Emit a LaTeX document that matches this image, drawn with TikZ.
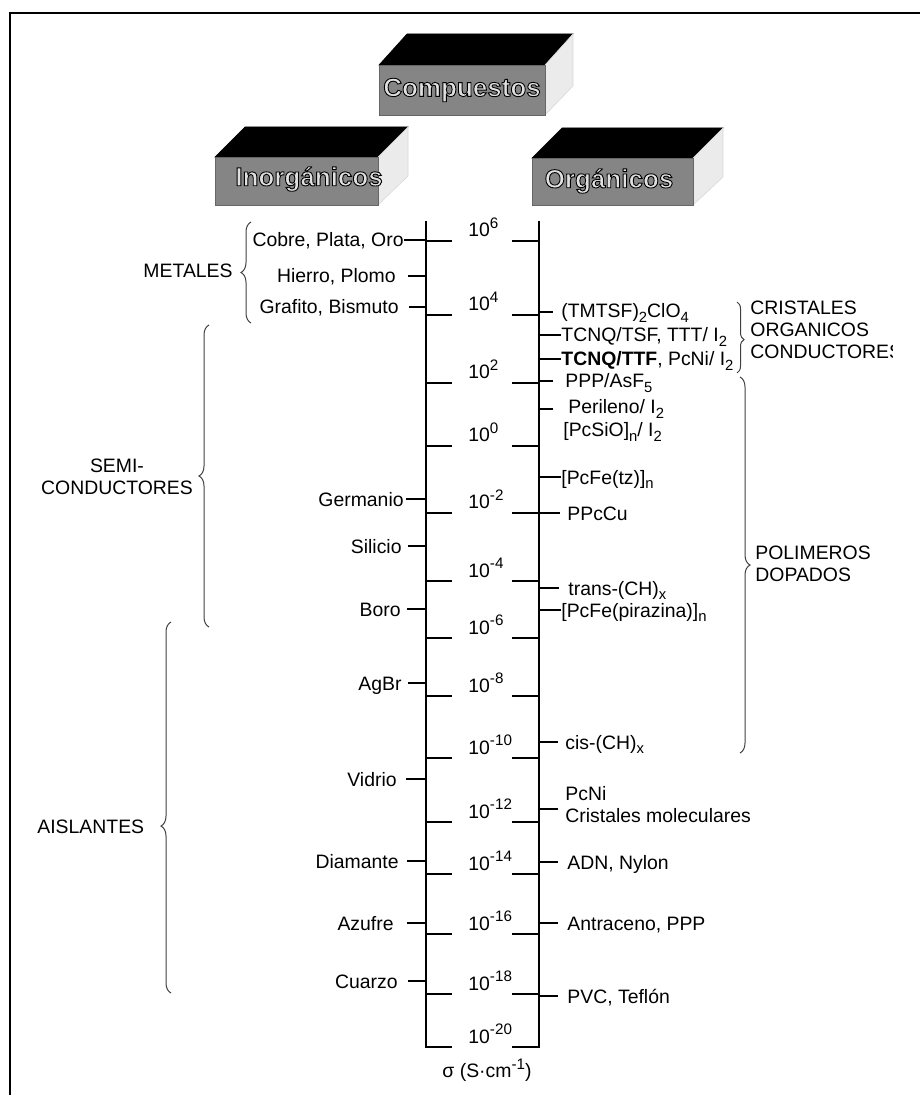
\documentclass[tikz,border=0pt]{standalone}
\usepackage{fontspec}
\setmainfont{Liberation Sans}
\usetikzlibrary{decorations.pathreplacing}
\newcommand{\sbs}[1]{\raisebox{-0.22em}{\fontsize{7.4}{8}\selectfont #1}}
\newcommand{\sps}[1]{\raisebox{0.42em}{\fontsize{7.6}{8}\selectfont #1}}
\begin{document}
\begin{tikzpicture}[x=0.5pt,y=-0.5pt,
  lbl/.style={font=\fontsize{9.7}{11}\selectfont, inner sep=0pt, text height=7pt, text depth=0pt},
  lft/.style={lbl, anchor=east},
  rgt/.style={lbl, anchor=west},
  multi/.style={font=\fontsize{9.7}{11}\selectfont, inner sep=0pt, align=left, anchor=west},
  declbl/.style={font=\fontsize{9.7}{11}\selectfont, inner sep=0pt, anchor=base west},
  axisline/.style={line width=1pt},
  tickline/.style={line width=1pt},
  conn/.style={line width=0.8pt},
  brc/.style={decorate, decoration={brace, amplitude=#1, aspect=0.5}, line width=0.5pt, draw=black!75},
  brc/.default=5pt,
  topface/.style={fill=black, draw=black, line width=0.3pt},
  frontface/.style={fill=black!48, draw=black!60, line width=0.3pt},
  sideface/.style={fill=black!8, draw=black!15, line width=0.3pt},
  title/.style={font=\fontsize{13}{15}\selectfont\bfseries, text=black!12, inner sep=0pt}
]
\useasboundingbox (0,0) rectangle (920,1095);
\newcommand{\outl}[1]{\special{pdf:literal direct 2 Tr 0.45 w 0 G}#1\special{pdf:literal direct 0 Tr}}

% frame
\draw[line width=0.8pt] (920,13) -- (10,13) -- (10,1095);

% slabs
\draw[topface] (379,65) -- (407,34) -- (573,34) -- (545,65) -- cycle;
\draw[sideface] (545,65) -- (573,34) -- (573,86) -- (545,115) -- cycle;
\draw[frontface] (379,65) rectangle (545,115);
\node[title] (comp) at (462,90) {\outl{Compuestos}};

\draw[topface] (215,157) -- (245,127) -- (408,127) -- (378,157) -- cycle;
\draw[sideface] (378,157) -- (408,127) -- (408,176) -- (378,205) -- cycle;
\draw[frontface] (215,157) rectangle (378,205);
\node[title] (inorg) at (309,179) {\outl{Inorgánicos}};

\draw[topface] (532,158) -- (562,128) -- (723,128) -- (693,158) -- cycle;
\draw[sideface] (693,158) -- (723,128) -- (723,177) -- (693,205) -- cycle;
\draw[frontface] (532,158) rectangle (693,205);
\node[title] (org) at (609,181) {\outl{Orgánicos}};

% axes
\draw[axisline] (452,1047) -- (426,1047) -- (426,221);
\draw[axisline] (512,1047) -- (539,1047) -- (539,221);

% decade ticks and labels
\foreach \yy in {241, 315, 383, 446, 513, 581, 638, 696, 758, 822, 874, 934, 994}{
  \draw[tickline] (426,\yy) -- (452,\yy);
  \draw[tickline] (512,\yy) -- (539,\yy);
}
\foreach \yy/\ex/\nm in {241/6/d6, 315/4/d4, 383/2/d2, 446/0/d0, 513/-2/dm2, 581/-4/dm4, 638/-6/dm6, 696/-8/dm8, 758/-10/dm10, 822/-12/dm12, 874/-14/dm14, 934/-16/dm16, 994/-18/dm18, 1047/-20/dm20}{
  \node[declbl] (\nm) at (468,\yy-4) {10\sps{\ex}};
}
\node[font=\fontsize{9.7}{11}\selectfont, inner sep=0pt] (sigma) at (487,1070) {σ (S·cm\sps{-1})};

% left (inorganic) items
\node[lft] (cobre) at (404,240) {Cobre, Plata, Oro};
\node[lft] (hierro) at (396,276) {Hierro, Plomo};
\node[lft] (grafito) at (399,307) {Grafito, Bismuto};
\node[lft] (germanio) at (404,499) {Germanio};
\node[lft] (silicio) at (402,546) {Silicio};
\node[lft] (boro) at (401,609) {Boro};
\node[lft] (agbr) at (402,683) {AgBr};
\node[lft] (vidrio) at (397,779) {Vidrio};
\node[lft] (diamante) at (399,861) {Diamante};
\node[lft] (azufre) at (394,923) {Azufre};
\node[lft] (cuarzo) at (398,981) {Cuarzo};

\foreach \nm/\yy in {cobre/240, hierro/276, grafito/307, germanio/499, silicio/546, boro/609, agbr/683, vidrio/779, diamante/861, azufre/923, cuarzo/981}{
  \coordinate (\nm A) at (426,\yy);
}
\draw[conn] (cobre.east) -- (cobreA);
\draw[conn] ([xshift=6pt]hierro.east) -- (hierroA);
\draw[conn] ([xshift=5pt]grafito.east) -- (grafitoA);
\draw[conn] ([xshift=1pt]germanio.east) -- (germanioA);
\draw[conn] ([xshift=3pt]silicio.east) -- (silicioA);
\draw[conn] ([xshift=3pt]boro.east) -- (boroA);
\draw[conn] ([xshift=3pt]agbr.east) -- (agbrA);
\draw[conn] ([xshift=4.5pt]vidrio.east) -- (vidrioA);
\draw[conn] ([xshift=4pt]diamante.east) -- (diamanteA);
\draw[conn] ([xshift=6.5pt]azufre.east) -- (azufreA);
\draw[conn] ([xshift=5pt]cuarzo.east) -- (cuarzoA);

% right (organic) items
\node[rgt] (tmtsf) at (561,311) {(TMTSF)\sbs{2}ClO\sbs{4}};
\node[rgt] (tcnqtsf) at (561,335) {TCNQ/TSF, TTT/ I\sbs{2}};
\node[rgt] (tcnqttf) at (561,359) {\textbf{TCNQ/TTF}, PcNi/ I\sbs{2}};
\node[rgt] (ppp) at (565,381) {PPP/AsF\sbs{5}};
\node[rgt] (perileno) at (568,407) {Perileno/ I\sbs{2}};
\node[rgt] (pcsio) at (563,430) {[PcSiO]\sbs{n}/ I\sbs{2}};
\node[rgt] (pcfetz) at (561,477) {[PcFe(tz)]\sbs{n}};
\node[rgt] (ppccu) at (567,513) {PPcCu};
\node[rgt] (trans) at (568,588) {trans-(CH)\sbs{x}};
\node[rgt] (pirazina) at (561,610) {[PcFe(pirazina)]\sbs{n}};
\node[rgt] (cis) at (565,742) {cis-(CH)\sbs{x}};
\node[multi] (pcni) at (565,805) {PcNi\\Cristales moleculares};
\node[rgt] (adn) at (567,862) {ADN, Nylon};
\node[rgt] (antraceno) at (567,923) {Antraceno, PPP};
\node[rgt] (pvc) at (567,996) {PVC, Teflón};

\foreach \nm/\yy in {tmtsf/312, tcnqtsf/335, tcnqttf/359, ppp/381, perileno/409, pcfetz/477, ppccu/513, trans/588, pirazina/610, cis/742, pcni/809, adn/862, antraceno/923, pvc/996}{
  \coordinate (\nm B) at (539,\yy);
}
\draw[conn] (tmtsfB) -- ([xshift=-4pt]tmtsf.west |- tmtsfB);
\draw[conn] (tcnqtsfB) -- (tcnqtsf.west);
\draw[conn] (tcnqttfB) -- (tcnqttf.west);
\draw[conn] (pppB) -- ([xshift=-6pt]ppp.west);
\draw[conn] (perilenoB) -- ([xshift=-7.5pt]perileno.west |- perilenoB);
\draw[conn] (pcfetzB) -- (pcfetz.west);
\draw[conn] (ppccuB) -- ([xshift=-3.5pt]ppccu.west);
\draw[conn] (transB) -- ([xshift=-4.5pt]trans.west);
\draw[conn] (pirazinaB) -- (pirazina.west);
\draw[conn] (cisB) -- ([xshift=-3.5pt]cis.west);
\draw[conn] (pcniB) -- ([xshift=-3.5pt]pcni.west |- pcniB);
\draw[conn] (adnB) -- ([xshift=-4.5pt]adn.west);
\draw[conn] (antracenoB) -- ([xshift=-4.5pt]antraceno.west);
\draw[conn] (pvcB) -- ([xshift=-4.5pt]pvc.west);

% left braces and groups
\node[font=\fontsize{9.7}{11}\selectfont, inner sep=0pt, anchor=east] (metales) at (233,271) {METALES};
\draw[brc] (251,323) -- (251,222);
\node[font=\fontsize{9.7}{11}\selectfont, inner sep=0pt, align=center] (semi) at (117,477) {SEMI-\\CONDUCTORES};
\draw[brc] (209,627) -- (209,325);
\node[font=\fontsize{9.7}{11}\selectfont, inner sep=0pt, anchor=west] (aisl) at (37,827) {AISLANTES};
\draw[brc, decoration={aspect=0.45}] (171,993) -- (171,622);

% right braces and groups
\draw[brc=3.5pt, decoration={aspect=0.53}] (737,302) -- (737,373);
\begin{scope}
  \clip (0,0) rectangle (892,1095);
  \node[multi] (cristales) at (750,330) {CRISTALES\\ORGANICOS\\CONDUCTORES};
\end{scope}
\draw[brc] (740,377) -- (740,753);
\node[multi] (polimeros) at (755,564) {POLIMEROS\\DOPADOS};
\end{tikzpicture}
\end{document}
